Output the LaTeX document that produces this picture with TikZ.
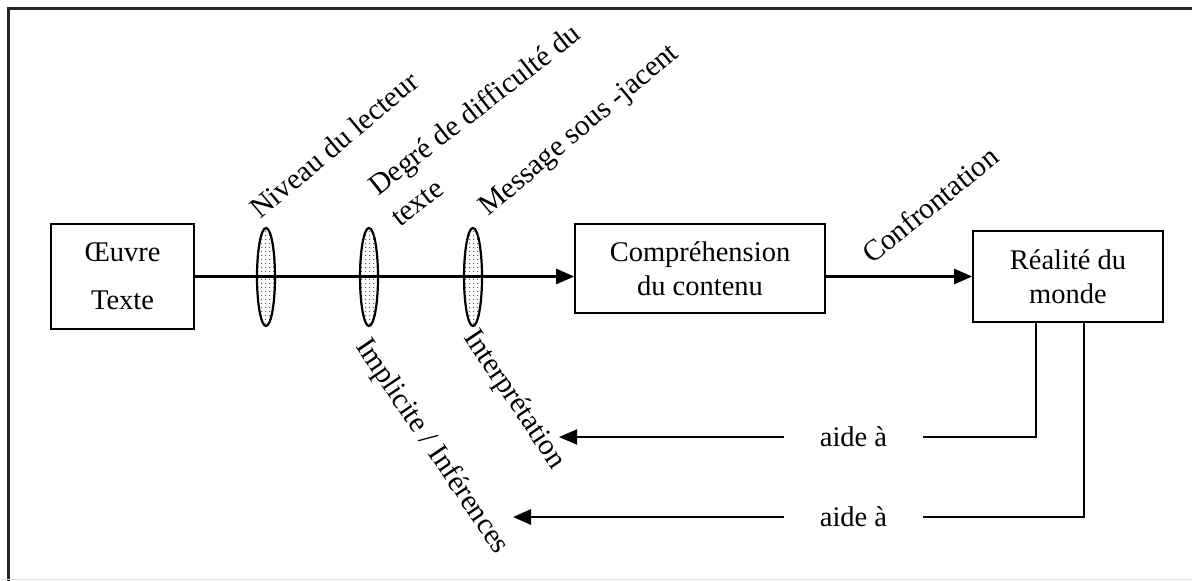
\documentclass[tikz,border=0pt]{standalone}
\usepackage{fontspec}
\setmainfont{Liberation Serif}
\usetikzlibrary{arrows.meta,shapes.geometric,patterns.meta}
\tikzdeclarepattern{
  name=sparsedots,
  type=uncolored,
  bounding box={(0pt,0pt) and (4pt,4pt)},
  tile size={(4pt,4pt)},
  code={\pgfpathcircle{\pgfpoint{2pt}{2pt}}{0.65pt}\pgfusepath{fill}}
}
\begin{document}
\begin{tikzpicture}[x=1pt,y=-1pt,
  txt/.style={font=\fontsize{29.5}{34}\selectfont, inner sep=0pt},
  box/.style={draw, line width=1.6pt, align=center, font=\fontsize{28.5}{34}\selectfont, inner sep=0pt},
  lens/.style={ellipse, draw, line width=2.2pt, minimum width=18pt, minimum height=98pt, inner sep=0pt, pattern=sparsedots},
  tip/.style={-{Triangle[length=18pt,width=15pt]}},
  flow/.style={line width=2.6pt, tip},
  helpa/.style={font=\fontsize{28.5}{34}\selectfont, inner xsep=36pt, inner ysep=0pt}
]
\useasboundingbox (0,0) rectangle (1192,581);
% frame
\draw[black!85, line width=2.6pt] (8.5,581) -- (8.5,8.5) -- (1192,8.5);
\draw[black!12, line width=1.2pt] (0,579.5) -- (1192,579.5);

% boxes
\node[box, minimum width=143pt, minimum height=105pt] (oeuvre) at (122.5,276.5) {Œuvre\\[14pt]Texte};
\node[box, minimum width=250pt, minimum height=89pt] (comp) at (700,268.5) {Compréhension\\du contenu};
\node[box, minimum width=190pt, minimum height=91pt] (real) at (1068,276.5) {Réalité du\\monde};

% main flow
\draw[flow] (oeuvre.east) -- (comp.west |- oeuvre.east);
\node[lens] (e1) at (266,277) {};
\node[lens] (e2) at (369,277) {};
\node[lens] (e3) at (473,277) {};
\draw[flow] (comp.east |- real.west) -- (real.west);

% labels above
\node[txt, rotate=40, anchor=base west] (niv) at (260,220) {Niveau du lecteur};
\node[txt, rotate=38, anchor=base west] (deg) at (378,197) {Degré de difficulté du};
\node[txt, rotate=38, anchor=base west] (degb) at (400,228) {texte};
\node[txt, rotate=40, anchor=base west] (msg) at (488,217) {Message sous -jacent};
\node[txt, rotate=39, anchor=base west] (conf) at (872,265) {Confrontation};

% labels below
\node[txt, rotate=-56, anchor=west] (impl) at (361,342) {Implicite / Inférences};
\node[txt, rotate=-56, anchor=west] (interp) at (469,333) {Interprétation};

% feedback
\coordinate (v1) at (1036,0);
\coordinate (v2) at (1084,0);
\node[helpa] (aide1) at (853.5,437) {aide à};
\node[helpa] (aide2) at (853.5,517) {aide à};
\coordinate (t1) at (559,437);
\coordinate (t2) at (513,517);
\draw[line width=2pt] (real.south -| v1) |- (aide1.east);
\draw[line width=2pt, tip] (aide1.west) -- (t1);
\draw[line width=2.8pt] (real.south -| v2) |- (aide2.east);
\draw[line width=2.8pt, tip] (aide2.west) -- (t2);
\end{tikzpicture}
\end{document}
